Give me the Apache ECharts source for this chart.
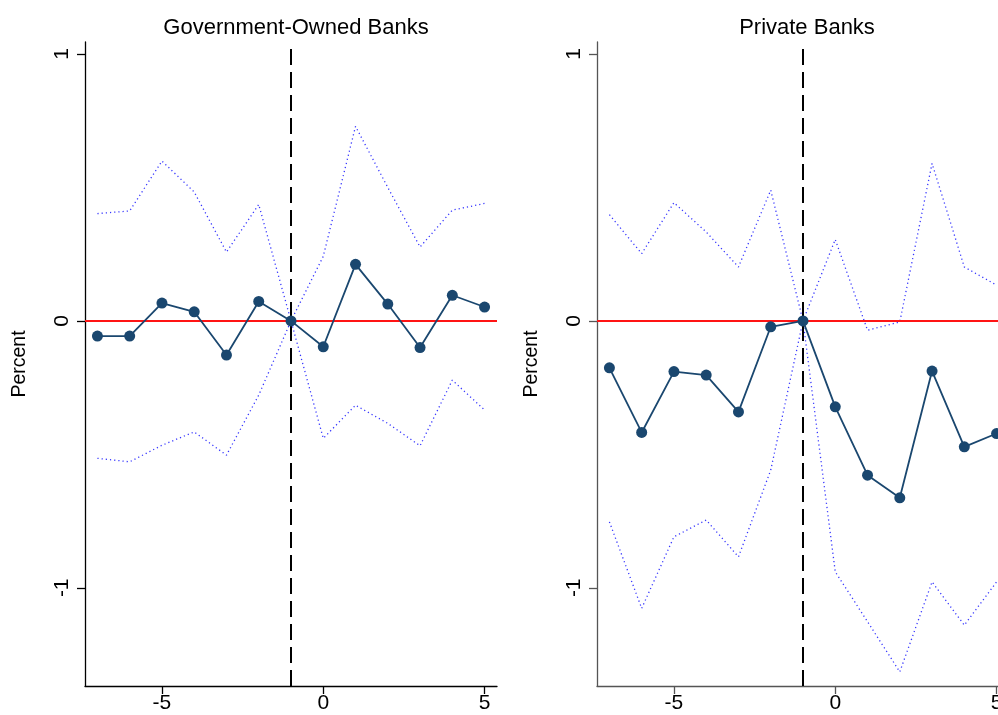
<!DOCTYPE html>
<html>
<head>
<meta charset="utf-8">
<script src="https://cdn.jsdelivr.net/npm/echarts@6/dist/echarts.min.js"></script>
<style>
  html, body { margin: 0; padding: 0; background: #fff; }
  #chart { width: 998px; height: 715px; }
</style>
</head>
<body>
<div id="chart"></div>
<script>
// event time
let periods = [-7, -6, -5, -4, -3, -2, -1, 0, 1, 2, 3, 4, 5]
let xTicks = [-5, 0, 5]
let yTicks = [-1, 0, 1]

// Government-Owned Banks
let gov_coef = [-0.057, -0.057, 0.067, 0.034, -0.128, 0.073, 0, -0.097, 0.212, 0.063, -0.100, 0.096, 0.052]
let gov_upper = [0.402, 0.412, 0.599, 0.483, 0.258, 0.436, 0, 0.242, 0.729, 0.500, 0.277, 0.415, 0.440]
let gov_lower = [-0.515, -0.528, -0.466, -0.416, -0.503, -0.278, 0, -0.440, -0.316, -0.384, -0.468, -0.222, -0.334]

// Private Banks
let priv_coef = [-0.176, -0.418, -0.190, -0.203, -0.341, -0.022, 0, -0.322, -0.578, -0.663, -0.188, -0.472, -0.422]
let priv_upper = [0.398, 0.252, 0.443, 0.333, 0.202, 0.490, 0, 0.305, -0.035, -0.004, 0.590, 0.202, 0.134]
let priv_lower = [-0.753, -1.077, -0.809, -0.746, -0.884, -0.559, 0, -0.940, -1.127, -1.315, -0.978, -1.140, -0.978]

let panelTitles = ['Government-Owned Banks', 'Private Banks']
let eventLine = -1

let font = 'Arial, "Liberation Sans", sans-serif'

function pairs(vals) {
    return periods.map((p, i) => [p, vals[i]])
}

function xAxisFor(idx) {
    return {
        gridIndex: idx, type: 'value', min: -7.385, max: 5.385,
        axisLine: {onZero: false, lineStyle: {color: idx ? '#555' : '#000', width: 1.3}},
        axisTick: {customValues: xTicks, length: 8, lineStyle: {color: idx ? '#555' : '#000', width: 1.3}},
        axisLabel: {customValues: xTicks, color: '#000', fontSize: 21, fontFamily: font, margin: 7},
        splitLine: {show: false}
    }
}

function yAxisFor(idx) {
    return {
        gridIndex: idx, type: 'value', min: -1.368, max: 1.045,
        name: 'Percent', nameLocation: 'middle', nameGap: 55, nameRotate: 90,
        nameTextStyle: {color: '#000', fontSize: 19.5, fontFamily: font},
        axisLine: {onZero: false, lineStyle: {color: idx ? '#555' : '#000', width: 1.3}},
        axisTick: {customValues: yTicks, length: 8, lineStyle: {color: idx ? '#555' : '#000', width: 1.3}},
        axisLabel: {customValues: yTicks, rotate: 90, color: '#000', fontSize: 21, fontFamily: font, margin: 12},
        splitLine: {show: false}
    }
}

function panelSeries(idx, coef, upper, lower) {
    let ci = (vals) => ({
        type: 'line', xAxisIndex: idx, yAxisIndex: idx, data: pairs(vals),
        symbol: 'none', silent: true,
        lineStyle: {color: '#3535ff', width: 1.3, type: [1.2, 3]}
    })
    return [
        {
            type: 'line', xAxisIndex: idx, yAxisIndex: idx, data: [],
            markLine: {
                silent: true, symbol: 'none', label: {show: false},
                data: [
                    {yAxis: 0, lineStyle: {color: '#ff1414', width: 2, type: 'solid'}},
                    {xAxis: eventLine, lineStyle: {color: '#000', width: 2, type: [16, 7]}}
                ]
            }
        },
        ci(upper),
        ci(lower),
        {
            type: 'line', xAxisIndex: idx, yAxisIndex: idx, data: pairs(coef),
            symbol: 'circle', symbolSize: 11,
            itemStyle: {color: '#1a476f'},
            lineStyle: {color: '#1a476f', width: 1.8},
            z: 5
        }
    ]
}

let chart = echarts.init(document.getElementById('chart'), null, {renderer: 'canvas'})
chart.setOption({
    backgroundColor: '#fff',
    animation: false,
    title: [
        {text: panelTitles[0], left: 291, top: 12, textAlign: 'center',
            textStyle: {fontSize: 22, fontWeight: 'normal', color: '#000', fontFamily: font}},
        {text: panelTitles[1], left: 802, top: 12, textAlign: 'center',
            textStyle: {fontSize: 22, fontWeight: 'normal', color: '#000', fontFamily: font}}
    ],
    // right panel runs past the page edge, like the original
    grid: [
        {left: 85, top: 42, width: 412, bottom: 29, outerBoundsMode: 'none'},
        {left: 597, top: 42, width: 412, bottom: 29, outerBoundsMode: 'none'}
    ],
    xAxis: [xAxisFor(0), xAxisFor(1)],
    yAxis: [yAxisFor(0), yAxisFor(1)],
    series: [].concat(
        panelSeries(0, gov_coef, gov_upper, gov_lower),
        panelSeries(1, priv_coef, priv_upper, priv_lower)
    )
})
</script>
</body>
</html>
